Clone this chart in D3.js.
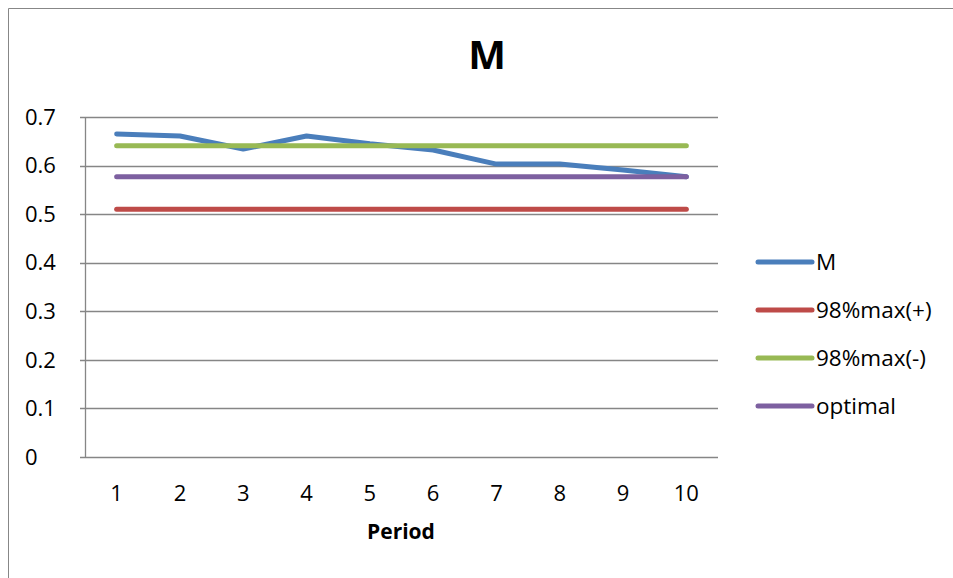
<!DOCTYPE html>
<html>
<head>
<meta charset="utf-8">
<script src="https://cdn.jsdelivr.net/npm/d3@7"></script>
<style>
  body { margin: 0; background: #fff; }
  svg { display: block; }
  text { font-family: "Open Sans", "Liberation Sans", sans-serif; fill: #000; }
</style>
</head>
<body>
<svg></svg>
<script>
const periods = [1, 2, 3, 4, 5, 6, 7, 8, 9, 10];
const mValues = [0.665, 0.661, 0.634, 0.661, 0.645, 0.632, 0.603, 0.603, 0.591, 0.577];
const maxPlus = [0.51, 0.51, 0.51, 0.51, 0.51, 0.51, 0.51, 0.51, 0.51, 0.51];
const maxMinus = [0.641, 0.641, 0.641, 0.641, 0.641, 0.641, 0.641, 0.641, 0.641, 0.641];
const optimal = [0.577, 0.577, 0.577, 0.577, 0.577, 0.577, 0.577, 0.577, 0.577, 0.577];
const yTicks = [0, 0.1, 0.2, 0.3, 0.4, 0.5, 0.6, 0.7];

const series = [
	{ name: "M", values: mValues, color: "#4a7ebb" },
	{ name: "98%max(+)", values: maxPlus, color: "#be4b48" },
	{ name: "98%max(-)", values: maxMinus, color: "#98b954" },
	{ name: "optimal", values: optimal, color: "#7d60a0" }
];

const svg = d3.select("svg").attr("width", 953).attr("height", 578);

// chart frame
svg.append("path")
	.attr("d", "M8.5,578V8.5H953")
	.attr("fill", "none")
	.attr("stroke", "#878787")
	.attr("stroke-width", 1);

const x = d3.scaleBand().domain(periods).range([85, 718]);
const y = d3.scaleLinear().domain([0, 0.7]).range([457, 117]);

// gridlines
svg.append("g")
	.selectAll("line")
	.data(yTicks)
	.enter()
	.append("line")
	.attr("x1", 80)
	.attr("x2", 718)
	.attr("y1", (d) => Math.round(y(d)) + 0.5)
	.attr("y2", (d) => Math.round(y(d)) + 0.5)
	.attr("stroke", "#868686")
	.attr("stroke-width", 1.3);

svg.append("line")
	.attr("x1", 85.5).attr("x2", 85.5)
	.attr("y1", 117).attr("y2", 458)
	.attr("stroke", "#868686")
	.attr("stroke-width", 1.3);

// y tick labels
svg.append("g")
	.selectAll("text")
	.data(yTicks)
	.enter()
	.append("text")
	.attr("x", 25)
	.attr("y", (d) => y(d))
	.attr("dy", "0.35em")
	.style("font-size", "22px")
	.text((d) => d === 0 ? "0" : d3.format(".1f")(d));

// x tick labels
svg.append("g")
	.selectAll("text")
	.data(periods)
	.enter()
	.append("text")
	.attr("x", (d) => x(d) + x.bandwidth() / 2)
	.attr("y", 493)
	.attr("dy", "0.35em")
	.attr("text-anchor", "middle")
	.style("font-size", "22px")
	.text((d) => d);

svg.append("text")
	.attr("x", 401)
	.attr("y", 532)
	.attr("dy", "0.35em")
	.attr("text-anchor", "middle")
	.style("font-size", "21px")
	.style("font-weight", "bold")
	.text("Period");

svg.append("text")
	.attr("x", 487)
	.attr("y", 55)
	.attr("dy", "0.35em")
	.attr("text-anchor", "middle")
	.style("font-size", "40px")
	.style("font-weight", "bold")
	.text("M");

const line = d3.line()
	.x((d, i) => x(periods[i]) + x.bandwidth() / 2)
	.y((d) => y(d));

svg.append("g")
	.selectAll("path")
	.data(series)
	.enter()
	.append("path")
	.attr("d", (d) => line(d.values))
	.attr("fill", "none")
	.attr("stroke", (d) => d.color)
	.attr("stroke-width", 5)
	.attr("stroke-linecap", "round")
	.attr("stroke-linejoin", "round");

// legend
const legend = svg.append("g")
	.selectAll("g")
	.data(series)
	.enter()
	.append("g")
	.attr("transform", (d, i) => `translate(758,${262 + i * 48})`);

legend.append("line")
	.attr("x1", 0).attr("x2", 54)
	.attr("stroke", (d) => d.color)
	.attr("stroke-width", 5)
	.attr("stroke-linecap", "round");

legend.append("text")
	.attr("x", 58)
	.attr("dy", "0.35em")
	.style("font-size", "22.5px")
	.text((d) => d.name);
</script>
</body>
</html>
